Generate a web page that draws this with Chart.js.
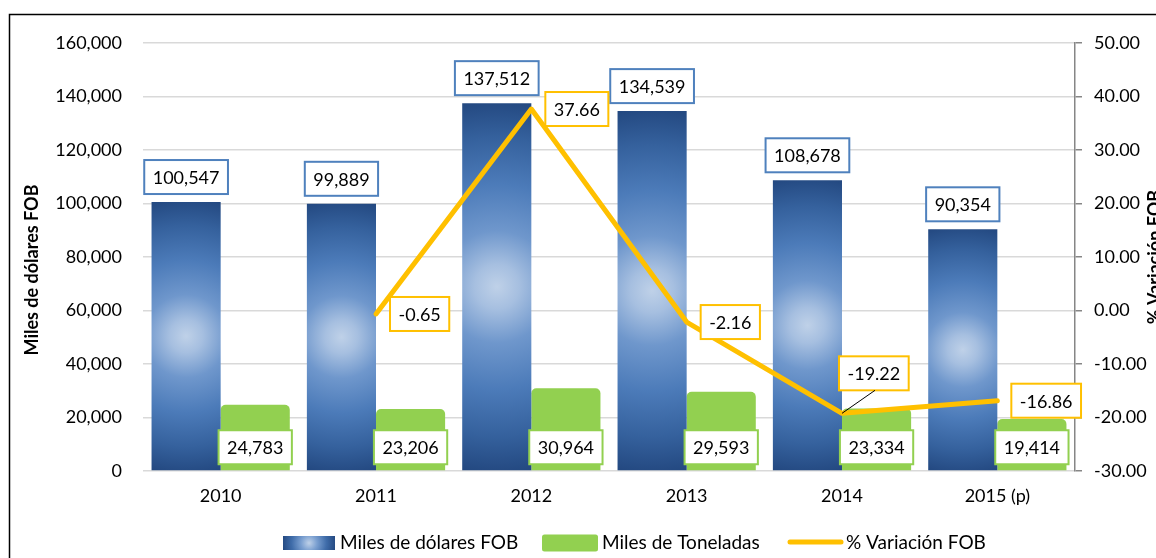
<!DOCTYPE html>
<html><head><meta charset="utf-8">
<script src="https://cdn.jsdelivr.net/npm/chart.js@4.4.1/dist/chart.umd.min.js"></script>
<style>html,body{margin:0;padding:0;background:#fff;overflow:hidden}canvas{display:block}</style>
</head><body>
<canvas id="c" width="1156" height="558" style="width:1156px;height:558px"></canvas>
<script>
const categories = ['2010', '2011', '2012', '2013', '2014', '2015 (p)'];
const milesDolaresFOB = [100547, 99889, 137512, 134539, 108678, 90354];
const milesToneladas = [24783, 23206, 30964, 29593, 23334, 19414];
const variacionFOB = [null, -0.65, 37.66, -2.16, -19.22, -16.86];
const seriesNames = ['Miles de dólares FOB', 'Miles de Toneladas', '% Variación FOB'];
const leftAxisTitle = 'Miles de dólares FOB';
const rightAxisTitle = '% Variación FOB';
const leftTickRange = [0, 160000, 20000];
const rightTickRange = [-30, 50, 10];

const FONT = 'Lato, "Liberation Sans", sans-serif';
const BLUE_BORDER = '#4f81bd', GREEN = '#92d050', GOLD = '#ffc000';

function addBlueStops(g) {
  g.addColorStop(0, '#bfd1e8');
  g.addColorStop(0.12, '#a6bfe0');
  g.addColorStop(0.3, '#6f97cc');
  g.addColorStop(0.55, '#4c7bb9');
  g.addColorStop(0.8, '#35619d');
  g.addColorStop(1, '#234880');
}

const barGradient = {
  id: 'barGradient',
  beforeDatasetDraw(chart, args) {
    if (args.index !== 0) return;
    args.meta.data.forEach(el => {
      const p = el.getProps(['x', 'y', 'base', 'width'], true);
      const cy = (p.y + p.base) / 2;
      const hh = Math.abs(p.base - p.y) / 2, hw = p.width / 2;
      const R = Math.sqrt(hh * hh + hw * hw);
      const g = chart.ctx.createRadialGradient(p.x, cy, 0, p.x, cy, R);
      addBlueStops(g);
      el.options = Object.assign({}, el.options, { backgroundColor: g });
    });
  }
};

const frame = {
  id: 'frame',
  beforeDraw(chart) {
    const c = chart.ctx;
    c.save();
    c.fillStyle = '#fff'; c.fillRect(0, 0, chart.width, chart.height);
    c.strokeStyle = '#000'; c.lineWidth = 1.5;
    c.beginPath(); c.moveTo(9.5, chart.height); c.lineTo(9.5, 14.5); c.lineTo(chart.width, 14.5); c.stroke();
    c.restore();
  }
};

function labelBox(c, text, color, cx, cy, anchorLeft) {
  c.font = '18px ' + FONT;
  const tw = c.measureText(text).width;
  const w = tw + 17, h = 34;
  const x = anchorLeft ? cx : cx - w / 2;
  const y = cy - h / 2;
  c.fillStyle = '#fff'; c.fillRect(x, y, w, h);
  c.strokeStyle = color; c.lineWidth = 2; c.strokeRect(x, y, w, h);
  c.fillStyle = '#000'; c.textAlign = 'center'; c.textBaseline = 'middle';
  c.fillText(text, x + w / 2, y + h / 2 + 1);
  return { x, y, w, h };
}

const dataLabels = {
  id: 'dataLabels',
  afterDatasetsDraw(chart) {
    const c = chart.ctx;
    c.save();
    const fmt = v => v.toLocaleString('en-US');
    const m0 = chart.getDatasetMeta(0), m1 = chart.getDatasetMeta(1), m2 = chart.getDatasetMeta(2);
    m0.data.forEach((el, i) => {
      labelBox(c, fmt(milesDolaresFOB[i]), BLUE_BORDER, el.x, el.y - 8 - 17, false);
    });
    m1.data.forEach((el, i) => {
      labelBox(c, fmt(milesToneladas[i]), GREEN, el.x, el.base - 6 - 17, false);
    });
    m2.data.forEach((el, i) => {
      const v = variacionFOB[i];
      if (v === null || el.skip) return;
      const t = v.toFixed(2);
      if (i === 4) {
        const b = labelBox(c, t, GOLD, el.x - 3, el.y - 40, true);
        c.strokeStyle = '#000'; c.lineWidth = 1;
        c.beginPath(); c.moveTo(el.x, el.y); c.lineTo(el.x + 33, b.y + b.h); c.stroke();
      } else {
        labelBox(c, t, GOLD, el.x + 14, el.y, true);
      }
    });
    c.restore();
  }
};

const extras = {
  id: 'extras',
  afterDraw(chart) {
    const c = chart.ctx;
    // axis titles
    c.save();
    c.font = 'bold 18px ' + FONT;
    c.fillStyle = '#000';
    c.textAlign = 'center'; c.textBaseline = 'middle';
    c.translate(32, 270);
    c.rotate(-Math.PI / 2);
    c.fillText(leftAxisTitle, 0, 0, 177);
    c.restore();
    c.save();
    c.font = 'bold 18px ' + FONT;
    c.fillStyle = '#000';
    c.translate(1161, (chart.chartArea.top + chart.chartArea.bottom) / 2);
    c.rotate(-Math.PI / 2);
    c.textAlign = 'center'; c.textBaseline = 'alphabetic';
    c.fillText(rightAxisTitle, 0, 0, 150);
    c.restore();
    // legend
    c.save();
    c.font = '19px ' + FONT;
    c.textBaseline = 'middle'; c.textAlign = 'left';
    const cy = 543;
    const lg = c.createRadialGradient(309, cy, 0, 309, cy, 27);
    lg.addColorStop(0, '#bfd1e8'); lg.addColorStop(0.3, '#7a9fd0'); lg.addColorStop(0.65, '#3f6ca9'); lg.addColorStop(1, '#234880');
    c.fillStyle = lg; c.fillRect(283, cy - 7, 52, 14);
    c.fillStyle = '#000';
    c.fillText(seriesNames[0], 340, cy, 182);
    c.fillStyle = GREEN;
    c.beginPath(); c.roundRect(542, cy - 8.5, 56, 17, 2.5); c.fill();
    c.fillStyle = '#000';
    c.fillText(seriesNames[1], 602, cy, 165);
    c.strokeStyle = GOLD; c.lineWidth = 5; c.lineCap = 'round';
    c.beginPath(); c.moveTo(790, cy - 1); c.lineTo(841, cy - 1); c.stroke();
    c.fillText(seriesNames[2], 846, cy, 145);
    c.restore();
  }
};

new Chart(document.getElementById('c'), {
  type: 'bar',
  data: {
    labels: categories,
    datasets: [
      { label: seriesNames[0], data: milesDolaresFOB, yAxisID: 'y', backgroundColor: '#4f7cb8', order: 1,
        categoryPercentage: 0.89, barPercentage: 1 },
      { label: seriesNames[1], data: milesToneladas, yAxisID: 'y', backgroundColor: GREEN, order: 2,
        categoryPercentage: 0.89, barPercentage: 1,
        borderRadius: { topLeft: 5, topRight: 5, bottomLeft: 0, bottomRight: 0 }, borderSkipped: false },
      { type: 'line', label: seriesNames[2], data: variacionFOB, yAxisID: 'y1', borderColor: GOLD,
        borderWidth: 5, pointRadius: 0, pointHoverRadius: 0, tension: 0, fill: false, order: 0,
        borderCapStyle: 'round', borderJoinStyle: 'round', spanGaps: false }
    ]
  },
  options: {
    responsive: false,
    animation: false,
    devicePixelRatio: 1,
    layout: { padding: { left: 0, right: 0, top: 43, bottom: 0 } },
    plugins: { legend: { display: false }, tooltip: { enabled: false } },
    scales: {
      x: {
        grid: { display: false, drawTicks: false },
        border: { display: false },
        ticks: { color: '#000', font: { family: FONT, size: 18 }, padding: 14, maxRotation: 0 },
        afterFit(s) { s.height = 87; }
      },
      y: {
        position: 'left',
        min: leftTickRange[0], max: leftTickRange[1],
        ticks: { stepSize: leftTickRange[2], color: '#000', font: { family: FONT, size: 18 }, padding: 21,
          callback: v => v.toLocaleString('en-US') },
        grid: { color: '#d9d9d9', lineWidth: 1.5, drawTicks: false },
        border: { display: false },
        afterFit(s) { s.width = 143; }
      },
      y1: {
        position: 'right',
        min: rightTickRange[0], max: rightTickRange[1],
        ticks: { stepSize: rightTickRange[2], color: '#000', font: { family: FONT, size: 18 }, padding: 12,
          callback: v => v.toFixed(2) },
        grid: { drawOnChartArea: false, color: '#868686', tickLength: 7, lineWidth: 1.5 },
        border: { display: true, color: '#868686', width: 1.5 },
        afterFit(s) { s.width = 81; }
      }
    }
  },
  plugins: [frame, barGradient, dataLabels, extras]
});
</script>
</body></html>
